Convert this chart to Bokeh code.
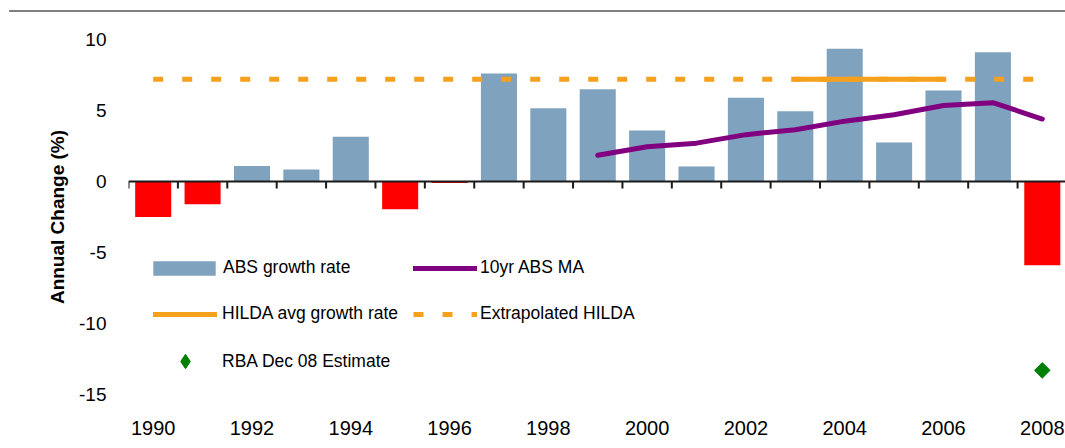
import numpy as np
from bokeh.plotting import figure
from bokeh.layouts import column
from bokeh.models import (ColumnDataSource, Range1d, LinearAxis, FixedTicker,
                          Legend, LegendItem, Div)
from bokeh.embed import file_html
from bokeh.resources import INLINE

# ---- data ----
years = list(range(1990, 2009))
abs_growth = [-2.5, -1.6, 1.1, 0.85, 3.15, -1.95, -0.1, 7.6, 5.15, 6.5,
              3.6, 1.05, 5.9, 4.95, 9.35, 2.75, 6.4, 9.1, -5.9]
ma_years = list(range(1999, 2009))
ma_values = [1.85, 2.45, 2.7, 3.3, 3.65, 4.25, 4.7, 5.35, 5.55, 4.4]
hilda_years = [2003, 2006]
hilda_values = [7.2, 7.2]
extrap_years = [1990, 2008]
extrap_values = [7.2, 7.2]
rba_years = [2008]
rba_values = [-13.3]
x_tick_years = list(range(1990, 2009, 2))
y_ticks = [-15, -10, -5, 0, 5, 10]

FONT = "Liberation Sans"
BLUE = "#7FA2BF"
RED = "#FF0000"
PURPLE = "#800080"
ORANGE = "#F5A11E"
GREEN = "#008000"
AXIS = "#1A1A1A"

# ---- thin grey rule at the very top ----
rule = Div(text='<div style="margin-left:9px;margin-top:10px;width:1056px;'
                'height:2px;background:#808080;"></div>',
           width=1065, height=14, margin=0)

# ---- main chart ----
X0, X1 = years[0] - 0.5, 2008.47
Y0, Y1 = -15, 10
FRAME_H = 434 - 25 - 54
PX_Y = (Y1 - Y0) / FRAME_H

bar_colors = [BLUE if v >= 0 else RED for v in abs_growth]
bars_src = ColumnDataSource(dict(x=years, top=abs_growth, color=bar_colors))

p = figure(width=1065, height=434,
           x_range=Range1d(X0, X1), y_range=Range1d(Y0, Y1),
           output_backend="svg", toolbar_location=None,
           x_axis_location=None,
           min_border_left=128, min_border_right=0,
           min_border_top=25, min_border_bottom=54)
p.outline_line_color = None
p.grid.visible = False
p.background_fill_color = "white"
p.border_fill_color = "white"

# y axis
ya = p.yaxis[0]
ya.ticker = FixedTicker(ticks=y_ticks)
ya.major_label_overrides = {v: str(v) for v in y_ticks}
ya.axis_line_color = None
ya.major_tick_line_color = None
ya.minor_tick_line_color = None
ya.major_label_text_font = FONT
ya.major_label_text_font_size = "19px"
ya.major_label_text_color = "black"
ya.major_label_standoff = 16
ya.axis_label = "Annual Change (%)"
ya.axis_label_text_font = FONT
ya.axis_label_text_font_size = "19px"
ya.axis_label_text_font_style = "bold"
ya.axis_label_text_color = "black"
ya.axis_label_standoff = 8

# bottom labels axis
xa = LinearAxis(ticker=FixedTicker(ticks=x_tick_years))
xa.axis_line_color = None
xa.major_tick_line_color = None
xa.minor_tick_line_color = None
xa.major_label_text_font = FONT
xa.major_label_text_font_size = "20px"
xa.major_label_text_color = "black"
xa.major_label_standoff = 20
p.add_layout(xa, "below")

# bars
r_bars = p.vbar(x="x", top="top", bottom=0, width=0.73, source=bars_src,
                fill_color="color", line_color=None)

# zero line and category-boundary tick marks
bounds = [y - 0.5 for y in years] + [years[-1] + 0.5]
n = len(bounds)
p.line(x=[bounds[0], bounds[-1]], y=[0, 0], line_color=AXIS, line_width=2)
p.segment(x0=bounds, y0=[0] * n, x1=bounds, y1=[-7 * PX_Y] * n,
          line_color=AXIS, line_width=2)

r_ext = p.line(extrap_years, extrap_values, line_color=ORANGE, line_width=5,
               line_dash="10 19", line_cap="butt")
r_hilda = p.line(hilda_years, hilda_values, line_color=ORANGE, line_width=5,
                 line_cap="round")
r_ma = p.line(ma_years, ma_values, line_color=PURPLE, line_width=5,
              line_join="round", line_cap="round")
r_rba = p.scatter(rba_years, rba_values, marker="square", angle=np.pi / 4,
                  size=11, fill_color=GREEN, line_color=GREEN)
# hidden diamond twin, used only for the legend symbol
r_rba_leg = p.scatter(rba_years, rba_values, marker="diamond",
                      fill_color=GREEN, line_color=GREEN, visible=False)


def mk_legend(item, loc, gw=64, gh=14, lh=20, standoff=5):
    lg = Legend(items=[item], location=loc, orientation="vertical")
    lg.label_text_font = FONT
    lg.label_text_font_size = "17.5px"
    lg.label_text_color = "black"
    lg.label_height = lh
    lg.glyph_height = gh
    lg.glyph_width = gw
    lg.spacing = 0
    lg.padding = 0
    lg.margin = 0
    lg.label_standoff = standoff
    lg.border_line_color = None
    lg.background_fill_alpha = 0
    lg.inactive_fill_alpha = 0
    return lg

legends = [
    mk_legend(LegendItem(label="ABS growth rate", renderers=[r_bars], index=2),
              (17, 116), gw=78, gh=18, standoff=0),
    mk_legend(LegendItem(label="HILDA avg growth rate", renderers=[r_hilda]),
              (25, 70)),
    mk_legend(LegendItem(label="RBA Dec 08 Estimate", renderers=[r_rba_leg]),
              (25, 15), gh=36, lh=36),
    mk_legend(LegendItem(label="10yr ABS MA", renderers=[r_ma]),
              (285, 116), standoff=3),
    mk_legend(LegendItem(label="Extrapolated HILDA", renderers=[r_ext]),
              (285, 70), standoff=3),
]
for lg in legends:
    p.add_layout(lg)

layout = column(rule, p, spacing=0)
open("out.html", "w").write(file_html(layout, INLINE))
